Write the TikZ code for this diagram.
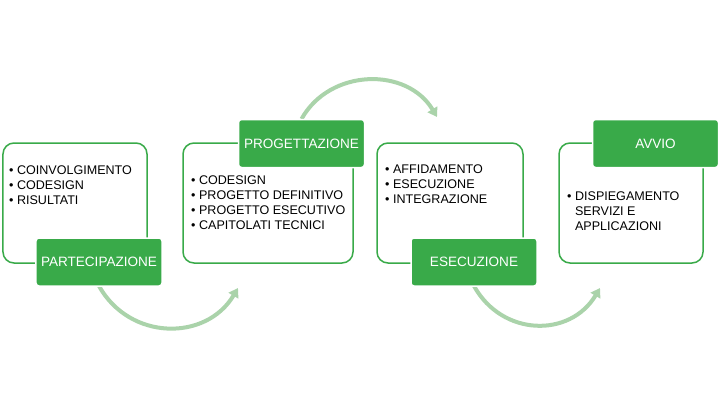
\documentclass[tikz,border=0pt]{standalone}
\usepackage{fontspec}
\setmainfont{Liberation Sans}
\usetikzlibrary{positioning, arrows.meta}
\definecolor{stepgreen}{RGB}{57,170,73}
\definecolor{flowgreen}{RGB}{170,211,170}
\newcommand{\dotitem}{\textbullet}

\begin{document}
\begin{tikzpicture}[
    x=1bp, y=1bp,
    >={Triangle[length=9bp,width=11bp]},
    box/.style={draw=stepgreen, line width=1.5bp, rounded corners=11bp, fill=white,
      minimum width=#1, minimum height=120bp, inner sep=0pt, outer sep=0pt},
    phase/.style={fill=stepgreen, draw=white, line width=1.5bp, rounded corners=3bp,
      text=white, font=\fontsize{13.6}{16}\selectfont,
      minimum width=126bp, minimum height=48bp, inner sep=0pt, outer sep=0pt},
    list/.style={anchor=base west, inner sep=0pt, font=\fontsize{12.6}{15}\selectfont},
    flow/.style={->, draw=flowgreen, line width=4bp}
  ]
  \useasboundingbox (0,0) rectangle (720,406);

  % --- BOXES ---
  \node[box=144bp] (b1) at (75,203) {};
  \node[box=170bp, right=36bp of b1] (b2) {};
  \node[box=146bp, right=24bp of b2] (b3) {};
  \node[box=144bp, right=36bp of b3] (b4) {};

  % --- CONTENTS ---
  \node[list] (t1) at (9,231.5) {\begin{tabular}[t]{@{}l@{\ }l@{}}
    \dotitem & COINVOLGIMENTO\\ \dotitem & CODESIGN\\ \dotitem & RISULTATI\end{tabular}};
  \node[list] (t2) at (191,221.5) {\begin{tabular}[t]{@{}l@{\ }l@{}}
    \dotitem & CODESIGN\\ \dotitem & PROGETTO DEFINITIVO\\
    \dotitem & PROGETTO ESECUTIVO\\ \dotitem & CAPITOLATI TECNICI\end{tabular}};
  \node[list] (t3) at (385,232.5) {\begin{tabular}[t]{@{}l@{\ }l@{}}
    \dotitem & AFFIDAMENTO\\ \dotitem & ESECUZIONE\\ \dotitem & INTEGRAZIONE\end{tabular}};
  \node[list] (t4) at (567,205.5) {\begin{tabular}[t]{@{}l@{\ }l@{}}
    \dotitem & DISPIEGAMENTO\\ & SERVIZI E\\ & APPLICAZIONI\end{tabular}};

  % --- FLOW ARROWS ---
  \coordinate (e1) at (238,118);
  \coordinate (e2) at (437,289);
  \coordinate (e3) at (600,118);
  \coordinate (s1) at (99,120);
  \coordinate (s2) at (301.5,287);
  \coordinate (s3) at (474,120);
  \draw[flow] (s1) to[bend right=60, looseness=1.15] (e1);
  \draw[flow] (s2) to[bend left=60, looseness=1.1] (e2);
  \draw[flow] (s3) to[bend right=60, looseness=1.18] (e3);

  % --- PHASE LABELS ---
  \node[phase] (p1) at (99,144) {PARTECIPAZIONE};
  \node[phase] (p2) at (301.5,262.5) {PROGETTAZIONE};
  \node[phase] (p3) at (474,144) {ESECUZIONE};
  \node[phase] (p4) at (655.5,262.5) {AVVIO};

\end{tikzpicture}
\end{document}
